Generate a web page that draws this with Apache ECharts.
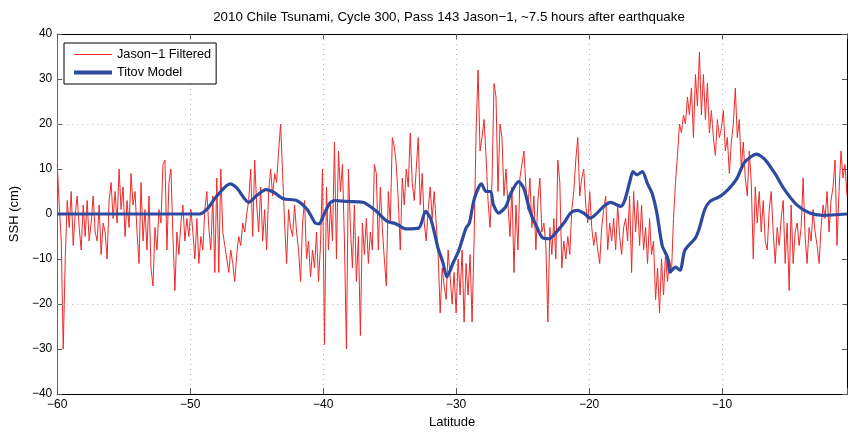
<!DOCTYPE html>
<html>
<head>
<meta charset="utf-8">
<script src="https://cdn.jsdelivr.net/npm/echarts@6/dist/echarts.min.js"></script>
<style>
  html, body { margin: 0; padding: 0; background: #fff; }
  #chart { width: 850px; height: 434px; }
</style>
</head>
<body>
<div id="chart"></div>
<script>
// Along-track samples of filtered Jason-1 sea surface height (cm), one every 0.15 deg of latitude
const LAT_START = -60;
const LAT_STEP = 0.15;
const jasonSSH = [
  11, 2, -6, -30, -10, 3, -3, 5, -7, 0,
  4, -3, -8, 2, -5, 3, -6, -2, 4, -4,
  -6, 2, -9, -2, -4, -10, 3, 7, -1, 5,
  -2, 10, 1, 6, -5, 3, -3, 9, 2, 5,
  -4, -11, 7, -6, 1, -8, 4, -12, -16, -3,
  -8, 1, -2, 11, 12, -8, 7, 10, -5, -17,
  -4, -9, -2, 2, -6, -1, -5, 1, -4, -10,
  -1, -11, -5, -8, 1, 5, -3, -8, 4, -13,
  8, -13, 10, -4, -7, -10, -13, -8, -11, -15,
  -9, -5, -7, -2, -4, 0, 3, 10, -5, 12,
  2, -4, 6, -6, 1, -8, 5, 10, 4, 9,
  7, 14, 20, 9, -2, -11, 1, -3, -5, 2,
  -4, -8, -15, -2, 3, -10, -6, -14, -8, -12,
  -4, -15, -7, 10, -29, 6, -8, 2, -6, 16,
  -10, 14, 5, 11, -6, -30, 10, -3, -12, 2,
  -15, -5, -27, -2, -9, -1, -11, -4, -8, 11,
  9, -8, 6, -3, -10, -16, 5, -2, 17, 15,
  11, 3, -8, 8, 2, 10, 6, 18, 7, 3,
  10, 17, 2, 9, -2, -6, 1, 6, -1, 5,
  -2, -9, -22, -12, -16, -19, -8, -14, -20, -13,
  -22, -10, -18, -8, -24, -11, -18, -9, -24, -6,
  18, 32, 14, 17, 21, 13, 3, -3, 7, 29,
  26, 5, 20, 17, 4, 10, 2, -5, 6, -13,
  2, -8, 8, 11, 14, 6, 1, 8, -3, 4,
  -8, 3, 8, -4, -2, -7, -24, -3, -9, -1,
  -10, 12, 7, -12, -6, -10, -5, -9, 1, 5,
  12, 17, 4, 8, 10, 2, -2, 5, -3, -7,
  -4, -8, -11, -3, 1, 4, -8, -2, -6, -1,
  -8, 2, -5, -9, -3, -1, -6, 4, -13, 5,
  -4, 3, -7, 2, -8, -3, -11, -1, -9, -6,
  -19, -12, -22, -10, -18, -9, -15, -10, -13, -1,
  7, 13, 20, 18, 22, 20, 26, 22, 28, 17,
  31, 24, 36, 22, 31, 21, 29, 18, 23, 17,
  13, 21, 17, 19, 23, 14, 17, 9, 16, 20,
  28, 17, 21, 10, 16, 8, 4, 14, 7, -10,
  6, -2, 5, -4, 3, -6, -8, 1, 5, -4,
  -11, -3, -7, -1, 3, -11, -2, -17, 2, -11,
  -4, -2, -7, -3, 8, -5, -11, -3, -6, 1,
  -4, -7, -11, -3, 2, -1, 5, -4, 3, 6,
  12, -7, 5, 14, 8, 11, 4
];

// Titov propagation model along the same track
const titovLat = [
  -60, -49.3, -48.7, -48.0, -47.0, -46.5, -45.6, -45.0, -44.3, -43.7,
  -43.0, -42.0, -41.2, -40.6, -40.3, -40.0, -39.5, -39.1, -38.2, -37.0,
  -36.0, -35.2, -34.5, -33.8, -32.8, -32.3, -31.9, -31.35, -31.0, -30.7,
  -30.2, -29.8, -29.25, -29.0, -28.65, -28.1, -27.75, -27.4, -27.2, -26.8,
  -26.25, -25.9, -25.3, -24.9, -24.4, -23.9, -23.5, -23.0, -22.4, -21.8,
  -21.4, -20.9, -20.4, -19.9, -19.4, -18.9, -18.4, -17.6, -17.3, -16.9,
  -16.7, -16.4, -16.0, -15.6, -15.25, -14.9, -14.5, -14.1, -13.9, -13.5,
  -13.15, -12.8, -12.0, -11.7, -11.3, -10.9, -10.15, -9.55, -8.9, -8.3,
  -7.4, -6.8, -6.0, -5.3, -4.4, -3.4, -2.4, -0.6
];
const titovSSH = [
  0, 0, 1.2, 4.0, 6.7, 5.8, 2.6, 4.1, 5.4, 4.8,
  3.4, 3.0, 1.0, -2.0, -2.2, -0.5, 2.4, 3.0, 2.8, 2.6,
  0.6, -1.6, -2.2, -3.3, -3.1, 0.6, -1.1, -7.7, -10.7, -14.0,
  -10.7, -8.1, -3.1, -2.0, 3.2, 6.7, 5.0, 5.0, 2.1, 0.2,
  1.7, 4.5, 7.2, 5.6, 0.2, -3.1, -5.3, -5.5, -3.8, -1.6,
  0.2, 0.8, 0.2, -0.9, 0.2, 1.7, 2.6, 1.7, 3.2, 7.6,
  9.4, 8.7, 9.4, 6.7, 4.5, 0.2, -7.0, -9.7, -12.9, -11.8,
  -12.5, -8.1, -5.3, -3.1, 1.0, 2.8, 3.9, 5.4, 7.8, 11.5,
  13.3, 12.2, 8.9, 5.4, 2.1, 0.2, -0.3, 0
];

const xTickLabels = ['-60', '-50', '-40', '-30', '-20', '-10'];
const yTickLabels = ['-40', '-30', '-20', '-10', '0', '10', '20', '30', '40'];
const gridLevels = [20, -20];

const FONT = 'Liberation Sans, Arial, Helvetica, sans-serif';
const RED = '#ee2a2a';
const BLUE = '#2d4a9e';
const minus = s => s.replace('-', '\u2212');

const jasonData = jasonSSH.map((v, i) => [+(LAT_START + i * LAT_STEP).toFixed(2), v]);
const titovData = titovLat.map((lat, i) => [lat, titovSSH[i]]);

const chart = echarts.init(document.getElementById('chart'), null, { renderer: 'canvas' });

const xFmt = v => {
  const s = String(Math.round(v));
  return (Math.abs(v - Math.round(v)) < 1e-6 && xTickLabels.includes(s)) ? minus(s) : '';
};
const yFmt = v => {
  const s = String(Math.round(v));
  return yTickLabels.includes(s) ? minus(s) : '';
};

const boxAxisCommon = {
  axisLine: { show: true, onZero: false, lineStyle: { color: '#000', width: 1 } },
  axisTick: { show: true, inside: true, length: 5, lineStyle: { color: '#555' } },
  axisLabel: { show: false },
  splitLine: { show: false }
};

chart.setOption({
  animation: false,
  backgroundColor: '#fff',
  textStyle: { fontFamily: FONT },
  grid: { left: 54, top: 34, right: 2, bottom: 34, containLabel: false },
  graphic: [{
    type: 'text',
    x: 449, y: 17,
    style: {
      text: '2010 Chile Tsunami, Cycle 300, Pass 143 Jason\u22121, ~7.5 hours after earthquake',
      fill: '#000', font: '13.3px ' + FONT, textAlign: 'center', textVerticalAlign: 'middle'
    }
  }],
  legend: {
    orient: 'vertical',
    left: 64, top: 43,
    data: [
      { name: 'Jason\u22121 Filtered', lineStyle: { color: RED, width: 1 } },
      { name: 'Titov Model', lineStyle: { color: BLUE, width: 4 } }
    ],
    backgroundColor: '#fff',
    borderColor: '#000', borderWidth: 1,
    padding: [5, 5, 5, 8],
    itemWidth: 38, itemHeight: 12, itemGap: 5,
    itemStyle: { opacity: 0 },
    textStyle: { color: '#000', fontSize: 12.7, fontFamily: FONT }
  },
  xAxis: [{
    type: 'value', min: -60, max: -0.6, interval: 10, position: 'bottom',
    axisLine: { show: true, onZero: false, lineStyle: { color: '#000', width: 1 } },
    axisTick: { show: true, inside: true, length: 6, lineStyle: { color: '#555' } },
    axisLabel: { color: '#000', fontSize: 12, margin: 5, fontFamily: FONT, formatter: xFmt },
    splitLine: { show: true, lineStyle: { color: '#b4b4b4', width: 1, type: [1, 4] } },
    name: 'Latitude', nameLocation: 'middle', nameGap: 22,
    nameTextStyle: { color: '#000', fontSize: 13, fontFamily: FONT }
  }, Object.assign({
    type: 'value', min: -60, max: -0.6, interval: 10, position: 'top'
  }, boxAxisCommon)],
  yAxis: [{
    type: 'value', min: -40, max: 40, interval: 10, position: 'left',
    axisLine: { show: true, onZero: false, lineStyle: { color: '#666', width: 1 } },
    axisTick: { show: true, inside: true, length: 5, lineStyle: { color: '#555' } },
    axisLabel: { color: '#000', fontSize: 12, margin: 5, fontFamily: FONT, formatter: yFmt },
    splitLine: { show: false },
    name: 'SSH (cm)', nameLocation: 'middle', nameGap: 34, nameRotate: 90,
    nameTextStyle: { color: '#000', fontSize: 13, fontFamily: FONT }
  }, Object.assign({
    type: 'value', min: -40, max: 40, interval: 10, position: 'right'
  }, boxAxisCommon)],
  series: [{
    name: 'grid',
    type: 'line',
    data: [],
    silent: true,
    markLine: {
      silent: true,
      symbol: ['none', 'none'],
      label: { show: false },
      lineStyle: { color: '#b4b4b4', width: 1, type: [1, 4] },
      data: gridLevels.map(v => ({ yAxis: v }))
    }
  }, {
    name: 'Jason\u22121 Filtered',
    type: 'line',
    data: jasonData,
    showSymbol: false,
    symbol: 'none',
    lineStyle: { color: RED, width: 1 },
    itemStyle: { color: RED }
  }, {
    name: 'Titov Model',
    type: 'line',
    data: titovData,
    showSymbol: false,
    symbol: 'none',
    smooth: 0.25,
    lineStyle: { color: BLUE, width: 3.2 },
    itemStyle: { color: BLUE }
  }]
});
</script>
</body>
</html>
